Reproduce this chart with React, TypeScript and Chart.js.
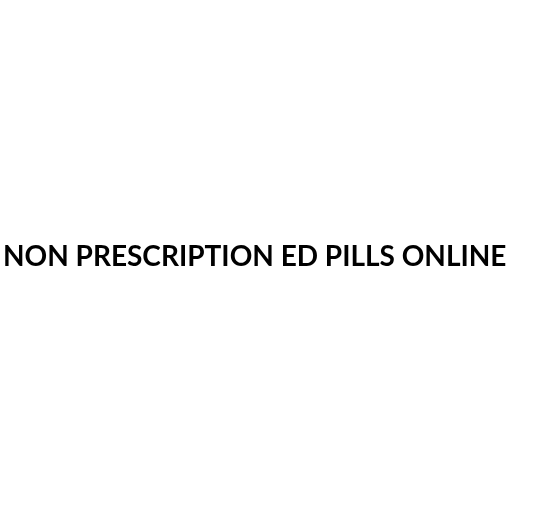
import React, { useEffect, useRef } from "react";
import { Chart, registerables } from "chart.js";

Chart.register(...registerables);

const titleText: string = "NON PRESCRIPTION ED PILLS ONLINE";
const categories: string[] = [];
const seriesValues: number[] = [];

export default function App() {
  const ref = useRef<HTMLCanvasElement | null>(null);
  useEffect(() => {
    if (!ref.current) return;
    const chart = new Chart(ref.current, {
      type: "bar",
      data: {
        labels: categories,
        datasets: [{ label: "", data: seriesValues, backgroundColor: "#000" }],
      },
      options: {
        animation: false,
        responsive: false,
        maintainAspectRatio: false,
        layout: { padding: { left: 3, top: 0, right: 0, bottom: 0 } },
        scales: { x: { display: false }, y: { display: false } },
        plugins: {
          legend: { display: false },
          tooltip: { enabled: false },
          title: {
            display: true,
            text: titleText,
            align: "start",
            color: "#000",
            font: { family: "Lato", size: 28, weight: "bold", lineHeight: 1.2 },
            padding: { top: 240, bottom: 0 },
          },
        },
      },
    });
    return () => chart.destroy();
  }, []);
  return (
    <div style={{ position: "fixed", left: 0, top: 0, width: 538, height: 532, background: "#fff" }}>
      <canvas ref={ref} width={538} height={532} style={{ width: 538, height: 532 }} />
    </div>
  );
}
